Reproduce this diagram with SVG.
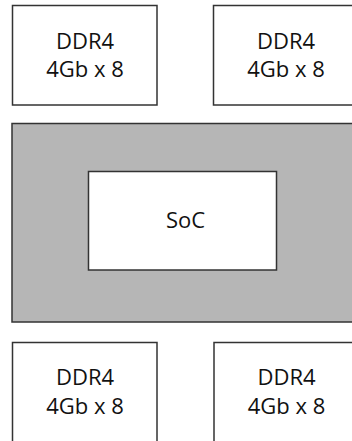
<svg xmlns="http://www.w3.org/2000/svg" width="352" height="441" viewBox="0 0 352 441">
<style>
.box{fill:#fff;stroke:#333;stroke-width:1.5}
.pkg{fill:#b6b6b6;stroke:#333;stroke-width:1.5}
text{font-family:"Open Sans","Noto Sans",sans-serif;font-size:22px;fill:#111;text-anchor:middle}
</style>
<g id="ddr-tl"><rect class="box" x="12.5" y="5.5" width="144.5" height="99.5"/><text x="85" y="48.5">DDR4</text><text x="85" y="77">4Gb x 8</text></g>
<g id="ddr-tr"><rect class="box" x="213.5" y="5.5" width="145" height="99.5"/><text x="286" y="48.5">DDR4</text><text x="286" y="77">4Gb x 8</text></g>
<g id="package"><rect class="pkg" x="12" y="123.5" width="347" height="198.5"/></g>
<g id="soc"><rect class="box" x="88.5" y="171.5" width="188" height="98.5"/><text x="185.5" y="228">SoC</text></g>
<g id="ddr-bl"><rect class="box" x="12.5" y="342.5" width="144.5" height="110"/><text x="85" y="385">DDR4</text><text x="85" y="413.5">4Gb x 8</text></g>
<g id="ddr-br"><rect class="box" x="214" y="342.5" width="145" height="110"/><text x="286.5" y="385">DDR4</text><text x="286.5" y="413.5">4Gb x 8</text></g>
<g id="connectors"/>
</svg>
